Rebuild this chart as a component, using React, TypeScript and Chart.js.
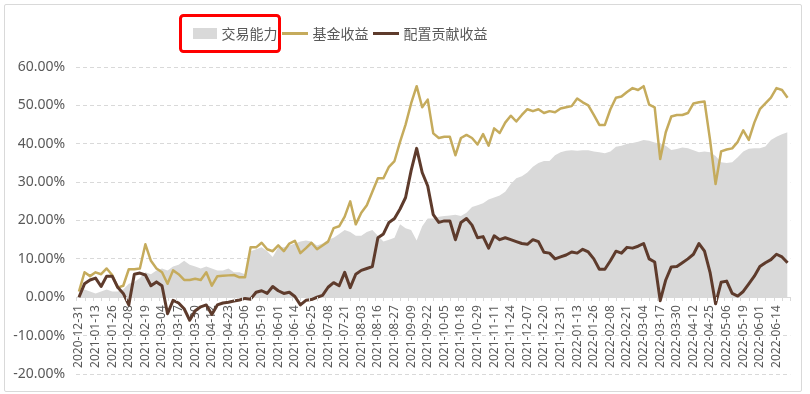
import React, { useEffect, useRef } from 'react';
import { Chart, registerables } from 'chart.js';

Chart.register(...registerables);

// ---------- data ----------
const tickDates: string[] = [
  '2020-12-31', '2021-01-13', '2021-01-26', '2021-02-08', '2021-02-19', '2021-03-04', '2021-03-17',
  '2021-03-30', '2021-04-12', '2021-04-23', '2021-05-06', '2021-05-19', '2021-06-01', '2021-06-14',
  '2021-06-25', '2021-07-08', '2021-07-21', '2021-08-03', '2021-08-16', '2021-08-27', '2021-09-09',
  '2021-09-22', '2021-10-05', '2021-10-18', '2021-10-29', '2021-11-11', '2021-11-24', '2021-12-07',
  '2021-12-20', '2021-12-31', '2022-01-13', '2022-01-26', '2022-02-08', '2022-02-21', '2022-03-04',
  '2022-03-17', '2022-03-30', '2022-04-12', '2022-04-25', '2022-05-06', '2022-05-19', '2022-06-01',
  '2022-06-14',
];

const seriesNames: string[] = ['交易能力', '基金收益', '配置贡献收益'];

// 交易能力 (area)
const tradingAbility: number[] = [
  1.0, 2.0, 1.5, 1.0, 1.5, 2.0, 1.5, 1.5, 2.0, 3.5, 4.0, 5.0, 6.5, 6.0, 7.0, 7.5, 7.0, 8.0, 8.5, 9.5,
  8.5, 8.0, 7.5, 8.0, 7.5, 7.0, 7.0, 7.5, 6.5, 6.5, 6.0, 12.0, 12.5, 13.0, 12.0, 10.5, 13.0, 13.0, 13.5, 14.0,
  14.5, 14.8, 14.5, 13.5, 14.0, 15.0, 15.5, 16.5, 17.5, 17.0, 16.0, 16.0, 17.0, 17.5, 16.0, 14.5, 15.0, 15.5, 19.0, 18.0,
  17.5, 14.8, 18.5, 20.5, 20.5, 21.0, 21.2, 21.3, 21.5, 21.2, 22.0, 23.5, 24.0, 24.5, 25.5, 26.0, 26.5, 27.5, 29.5, 31.0,
  31.5, 32.5, 34.0, 35.0, 35.5, 35.5, 37.0, 37.8, 38.2, 38.3, 38.2, 38.3, 38.3, 38.0, 37.8, 37.5, 38.0, 39.2, 39.5, 40.0,
  40.2, 40.5, 41.0, 40.8, 40.3, 40.0, 39.5, 38.4, 38.6, 39.0, 38.8, 38.3, 37.8, 38.0, 37.8, 36.8, 35.2, 35.0, 35.2, 36.5,
  38.0, 38.7, 38.8, 38.8, 39.3, 41.0, 41.8, 42.5, 43.0, 42.8, 42.5,
];

// 基金收益 (gold line)
const fundReturn: number[] = [
  1.5, 6.5, 5.5, 6.5, 6.0, 7.5, 5.8, 2.5, 3.0, 7.3, 7.3, 7.5, 13.8, 9.5, 7.5, 6.5, 3.5, 7.0, 6.0, 4.5,
  4.5, 4.8, 4.5, 6.5, 3.0, 5.5, 5.6, 5.7, 5.8, 5.2, 5.2, 13.0, 13.0, 14.2, 12.5, 12.0, 13.5, 12.0, 14.0, 14.7,
  11.5, 12.8, 14.2, 12.5, 13.5, 14.5, 18.0, 18.5, 21.0, 25.0, 19.0, 22.0, 24.0, 27.5, 31.0, 31.0, 34.0, 35.5, 40.5, 45.0,
  50.5, 55.0, 49.5, 51.5, 42.7, 41.5, 41.8, 41.8, 37.0, 41.5, 42.3, 41.5, 39.8, 42.5, 39.5, 44.0, 42.8, 45.5, 47.3, 45.8,
  47.5, 49.0, 48.5, 49.0, 48.0, 48.5, 48.2, 49.2, 49.5, 49.8, 51.8, 50.8, 50.0, 47.5, 44.9, 44.9, 49.0, 52.0, 52.3, 53.5,
  54.5, 54.0, 55.0, 50.2, 49.5, 36.0, 43.0, 47.1, 47.5, 47.5, 48.0, 50.5, 50.8, 51.0, 41.0, 29.5, 38.0, 38.5, 38.8, 40.5,
  43.5, 41.0, 45.5, 49.0, 50.5, 52.0, 54.5, 54.0, 52.0,
];

// 配置贡献收益 (brown line)
const allocReturn: number[] = [
  0.0, 3.5, 4.5, 5.0, 2.8, 5.5, 5.5, 2.6, 1.0, -2.0, 6.0, 6.3, 5.8, 3.0, 4.0, 3.0, -4.3, -0.8, -1.5, -3.0,
  -6.0, -3.5, -2.5, -2.0, -4.5, -2.0, -1.5, -1.3, -1.0, -0.7, -0.3, -0.5, 1.3, 1.7, 1.0, 2.8, 1.7, 1.0, 1.3, 0.2,
  -2.0, -0.8, -0.6, 0.0, 0.5, 2.6, 3.8, 3.0, 6.5, 2.5, 6.0, 7.0, 7.5, 8.0, 15.5, 16.5, 19.5, 20.5, 23.0, 26.0,
  33.0, 38.8, 32.5, 29.0, 21.5, 19.5, 19.9, 19.9, 15.0, 19.5, 20.5, 18.8, 15.5, 15.8, 12.8, 16.0, 15.0, 15.5, 15.0, 14.5,
  14.0, 13.8, 15.0, 14.5, 11.7, 11.5, 10.0, 10.5, 11.0, 11.8, 11.5, 12.5, 11.8, 10.0, 7.3, 7.3, 9.5, 12.0, 11.5, 13.0,
  12.8, 13.3, 14.0, 10.0, 9.2, -0.9, 4.5, 7.9, 8.0, 9.0, 10.0, 11.2, 14.0, 12.0, 6.5, -1.7, 3.9, 4.2, 1.0, 0.3,
  1.5, 3.5, 5.5, 8.0, 9.0, 9.8, 11.2, 10.5, 9.0,
];

const yMin = -20;
const yMax = 60;
const yStep = 10;
const pointsPerTick = 3;

// ---------- styling ----------
const AREA_COLOR = '#d9d9d9';
const GOLD = '#c5ab5c';
const BROWN = '#5e3b2c';
const TEXT = '#595959';
const GRID = '#d9d9d9';
const CJK_FONT = '"Noto Sans CJK SC", "Noto Sans", sans-serif';
const NUM_FONT = '"Noto Sans", "Noto Sans CJK SC", sans-serif';

const categoryLabels: string[] = fundReturn.map((_, i) =>
  i % pointsPerTick === 0 && tickDates[i / pointsPerTick] ? tickDates[i / pointsPerTick] : ''
);

const legendPlugin = {
  id: 'customLegend',
  afterDraw(chart: any) {
    const ctx: CanvasRenderingContext2D = chart.ctx;
    ctx.save();
    ctx.font = `14px ${CJK_FONT}`;
    ctx.textBaseline = 'middle';
    ctx.textAlign = 'left';
    let x = 193;
    const y = 33.5;
    chart.data.datasets.forEach((ds: any, i: number) => {
      if (i === 0) {
        ctx.fillStyle = ds.backgroundColor;
        ctx.fillRect(x, y - 5.5, 24, 11);
        x += 24;
      } else {
        ctx.strokeStyle = ds.borderColor;
        ctx.lineWidth = 3;
        ctx.beginPath();
        ctx.moveTo(x, y);
        ctx.lineTo(x + 26, y);
        ctx.stroke();
        x += 26;
      }
      x += 4.5;
      ctx.fillStyle = TEXT;
      ctx.fillText(ds.label, x, y);
      x += ctx.measureText(ds.label).width + 4.5;
    });
    // red highlight box around first legend item
    ctx.strokeStyle = '#ff0000';
    ctx.lineWidth = 3;
    ctx.beginPath();
    (ctx as any).roundRect ? (ctx as any).roundRect(180.5, 15.5, 99, 36, 3) : ctx.rect(180.5, 15.5, 99, 36);
    ctx.stroke();

    // small tick marks under the category axis
    const xs = chart.scales.x;
    const ys = chart.scales.y;
    const y0 = Math.round(ys.getPixelForValue(0));
    ctx.strokeStyle = GRID;
    ctx.lineWidth = 1;
    ctx.beginPath();
    for (let v = -0.5; v <= fundReturn.length - 0.5 + 1e-6; v += 1.5) {
      const px = Math.round(xs.getPixelForValue(v)) + 0.5;
      ctx.moveTo(px, y0);
      ctx.lineTo(px, y0 + 4);
    }
    ctx.stroke();
    ctx.restore();
  },
};

export default function App() {
  const canvasRef = useRef<HTMLCanvasElement | null>(null);

  useEffect(() => {
    if (!canvasRef.current) return;
    const chart = new Chart(canvasRef.current, {
      type: 'line',
      data: {
        labels: categoryLabels,
        datasets: [
          {
            label: seriesNames[0],
            data: tradingAbility,
            fill: 'origin',
            backgroundColor: AREA_COLOR,
            borderColor: AREA_COLOR,
            borderWidth: 0,
            pointRadius: 0,
            tension: 0,
            order: 3,
          },
          {
            label: seriesNames[1],
            data: fundReturn,
            fill: false,
            borderColor: GOLD,
            backgroundColor: GOLD,
            borderWidth: 2.5,
            pointRadius: 0,
            tension: 0,
            borderJoinStyle: 'round',
            order: 2,
          },
          {
            label: seriesNames[2],
            data: allocReturn,
            fill: false,
            borderColor: BROWN,
            backgroundColor: BROWN,
            borderWidth: 3,
            pointRadius: 0,
            tension: 0,
            borderJoinStyle: 'round',
            order: 1,
          },
        ],
      },
      options: {
        responsive: false,
        animation: false,
        events: [],
        layout: { padding: { left: 0, right: 13, top: 67, bottom: 20 } },
        plugins: {
          legend: { display: false },
          tooltip: { enabled: false },
        },
        scales: {
          x: {
            type: 'category',
            offset: true,
            position: { y: 0 } as any,
            grid: { display: true, drawOnChartArea: false, drawTicks: false },
            border: { display: true, color: GRID, width: 1 },
            ticks: {
              autoSkip: false,
              maxRotation: 90,
              minRotation: 90,
              padding: 8,
              color: TEXT,
              font: { size: 12, family: NUM_FONT },
              callback: (_v: any, i: number) => categoryLabels[i],
            },
          },
          y: {
            min: yMin,
            max: yMax,
            afterFit: (scale: any) => {
              scale.width = 76.2;
            },
            grid: { color: GRID, drawTicks: false, lineWidth: 1 },
            border: { display: false, dash: [4, 3] },
            ticks: {
              stepSize: yStep,
              padding: 11,
              color: TEXT,
              font: { size: 14, family: NUM_FONT },
              callback: (v: any) => Number(v).toFixed(2) + '%',
            },
          },
        },
      },
      plugins: [legendPlugin],
    });
    return () => chart.destroy();
  }, []);

  return (
    <div style={{ position: 'fixed', left: 0, top: 0, width: 810, height: 394, background: '#ffffff' }}>
      <div
        style={{
          position: 'absolute',
          left: 4,
          top: 4,
          width: 798,
          height: 388,
          boxSizing: 'border-box',
          border: '1px solid #d9d9d9',
          borderRadius: 2,
        }}
      />
      <canvas
        ref={canvasRef}
        width={810}
        height={394}
        style={{ position: 'absolute', left: 0, top: 0, display: 'block' }}
      />
    </div>
  );
}
